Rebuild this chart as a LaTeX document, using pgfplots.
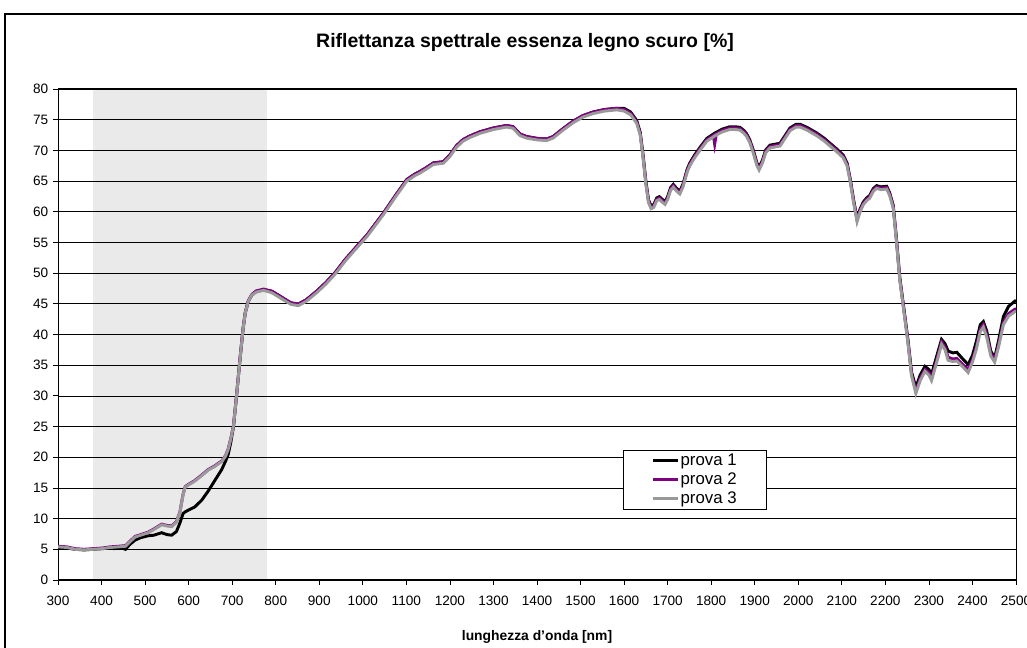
\documentclass[border=0pt]{standalone}
\usepackage{pgfplots}
\pgfplotsset{compat=1.18}
\usepackage{pgfplotstable}
\usepackage{fontspec}
\setmainfont{Liberation Sans}
\definecolor{pgray}{HTML}{999999}
\definecolor{ppurple}{HTML}{800080}
\definecolor{shadegray}{HTML}{EAEAEA}

\pgfplotstableread{
x p1 p2 p3
300 5.3 5.5 5.4
320 5.2 5.4 5.3
340 5.0 5.1 5.0
360 4.9 5.0 4.9
380 5.0 5.1 5.0
400 5.1 5.2 5.1
420 5.2 5.4 5.3
430 5.1 5.45 5.35
440 5.3 5.5 5.4
447 5.2 5.55 5.45
455 5.0 5.6 5.5
465 5.8 6.3 6.2
477 6.5 7.1 7.0
490 6.9 7.4 7.3
507 7.2 7.8 7.7
520 7.3 8.3 8.2
538 7.7 9.1 9.0
550 7.4 8.9 8.8
561 7.3 8.8 8.7
572 7.9 9.5 9.4
580 9.3 11.1 11.0
587 10.8 13.9 13.8
592 11.1 15.2 15.1
600 11.4 15.6 15.5
614 11.9 16.2 16.1
630 13.0 17.1 17.0
645 14.5 18.0 17.9
660 16.2 18.6 18.5
676 18.0 19.4 19.3
685 19.4 20.3 20.2
691 20.5 21.4 21.3
697 22.5 23.1 23.0
703 25.0 25.2 25.1
710 30.0 30.1 30.0
718 36.0 36.1 36.0
725 40.9 41.0 40.9
730 43.5 43.6 43.5
737 45.4 45.5 45.4
745 46.4 46.5 46.4
755 47.0 47.1 46.9
772 47.3 47.4 47.2
791 47.05 47.05 46.8
805 46.45 46.45 46.2
821 45.75 45.75 45.5
835 45.15 45.15 44.9
852 44.95 44.95 44.7
870 45.65 45.65 45.4
894 47.05 47.05 46.8
915 48.45 48.45 48.2
936 50.05 50.05 49.8
960 52.25 52.25 52.0
986 54.35 54.35 54.1
1010 56.25 56.25 56.0
1047 59.75 59.75 59.5
1075 62.65 62.65 62.4
1101 65.25 65.25 65.0
1120 66.15 66.15 65.9
1131 66.55 66.55 66.3
1145 67.15 67.15 66.9
1162 67.95 67.95 67.7
1185 68.15 68.15 67.9
1200 69.25 69.25 69.0
1215 70.75 70.75 70.5
1230 71.75 71.75 71.5
1246 72.35 72.35 72.1
1270 73.05 73.05 72.8
1300 73.65 73.65 73.4
1330 74.05 74.05 73.8
1345 73.85 73.85 73.6
1361 72.65 72.65 72.4
1376 72.25 72.25 72.0
1400 71.95 71.95 71.7
1422 71.85 71.85 71.6
1437 72.25 72.25 72.0
1460 73.55 73.55 73.3
1483 74.75 74.75 74.5
1505 75.65 75.65 75.4
1529 76.25 76.25 76.0
1555 76.65 76.65 76.4
1583 76.85 76.85 76.6
1600 76.85 76.65 76.4
1615 76.25 76.05 75.8
1629 74.85 74.65 74.4
1637 72.95 72.75 72.5
1644 68.95 68.75 68.5
1650 64.95 64.75 64.5
1656 61.95 61.75 61.5
1662 60.95 60.75 60.5
1668 61.15 60.95 60.7
1675 62.25 62.05 61.8
1681 62.45 62.25 62.0
1687 62.05 61.85 61.6
1694 61.65 61.45 61.2
1700 62.45 62.25 62.0
1707 63.95 63.75 63.5
1713 64.45 64.25 64.0
1720 63.85 63.65 63.4
1728 63.35 63.15 62.9
1735 64.45 64.25 64.0
1745 66.95 66.75 66.5
1751 67.95 67.75 67.5
1762 69.25 69.05 68.8
1774 70.45 70.25 70.0
1790 71.95 71.75 71.5
1805 72.65 72.45 72.2
1808 72.8 71.0 72.35
1812 72.95 72.75 72.5
1825 73.45 73.25 73.0
1843 73.85 73.65 73.4
1855 73.85 73.65 73.4
1866 73.75 73.55 73.3
1875 73.25 73.05 72.8
1881 72.75 72.55 72.3
1889 71.65 71.45 71.2
1897 69.95 69.75 69.5
1905 67.95 67.75 67.5
1910 67.25 67.05 66.8
1918 68.45 68.25 68.0
1925 70.05 69.85 69.6
1935 70.85 70.65 70.4
1950 71.05 70.85 70.6
1958 71.15 70.95 70.7
1970 72.45 72.25 72.0
1981 73.65 73.45 73.2
1995 74.25 74.05 73.8
2004 74.25 74.05 73.8
2020 73.75 73.55 73.3
2042 72.85 72.65 72.4
2060 71.95 71.75 71.5
2073 71.15 70.95 70.7
2088 70.25 70.05 69.8
2103 69.25 69.05 68.8
2112 67.95 67.75 67.5
2119 65.45 65.25 65.0
2127 61.95 61.75 61.5
2135 58.85 58.65 58.4
2142 60.45 60.25 60.0
2149 61.55 61.35 61.1
2157 62.25 62.05 61.8
2164 62.65 62.45 62.2
2172 63.75 63.55 63.3
2180 64.25 64.05 63.8
2190 64.05 63.85 63.6
2203 64.15 63.95 63.7
2210 63.05 62.85 62.6
2218 61.05 60.85 60.6
2225 55.95 55.75 55.5
2233 49.35 49.15 48.9
2245 42.85 42.65 42.4
2252 39.0 38.8 38.5
2260 33.9 33.6 33.3
2270 31.4 30.8 30.4
2280 33.4 32.9 32.5
2291 34.8 34.3 34.0
2300 34.3 33.8 33.4
2306 33.5 32.9 32.5
2318 36.5 35.9 35.5
2329 39.2 38.8 38.4
2337 38.5 37.9 37.5
2344 37.3 36.3 35.8
2355 37.0 36.0 35.6
2364 37.1 36.1 35.7
2378 36.0 35.1 34.7
2390 35.1 34.3 33.8
2400 36.6 35.9 35.5
2409 38.9 38.0 37.6
2418 41.6 40.9 40.5
2425 42.1 41.6 41.2
2433 40.5 39.9 39.5
2442 37.3 36.9 36.5
2451 36.2 35.9 35.5
2460 39.0 38.4 38.0
2471 42.9 42.0 41.6
2483 44.6 43.4 43.0
2497 45.4 44.1 43.7
2500 45.6 44.2 43.8
}\datatable

\begin{document}
\begin{tikzpicture}
\clip (0pt,0pt) rectangle (770.25pt,486pt);
\fill[white] (0pt,0pt) rectangle (770.25pt,486pt);
\draw[line width=1.5pt] (3.75pt,-20pt) -- (3.75pt,475.5pt) -- (800pt,475.5pt);
% background band
\begin{axis}[
  at={(43.5pt,51pt)}, anchor=south west,
  scale only axis, width=718.5pt, height=368.25pt,
  xmin=300, xmax=2500, ymin=0, ymax=80,
  hide axis,
]
\addplot[fill=shadegray, draw=none] coordinates {(380,80) (780,80)} \closedcycle;
\end{axis}
% main axis
\begin{axis}[
  at={(43.5pt,51pt)}, anchor=south west,
  scale only axis, width=718.5pt, height=368.25pt,
  xmin=300, xmax=2500, ymin=0, ymax=80,
  xtick={300,400,...,2500}, ytick={0,5,...,80},
  ymajorgrids, major grid style={black, line width=0.5pt},
  axis line style={black, line width=0.75pt},
  tick align=outside, major tick length=3.75pt,
  tick style={black, line width=0.6pt},
  xtick pos=left, ytick pos=left,
  ticklabel style={font=\fontsize{10.2}{12}\selectfont},
  xticklabel style={yshift=-5pt},
  /pgf/number format/assume math mode=true,
  /pgf/number format/1000 sep={},
  scaled ticks=false,
  title={Riflettanza spettrale essenza legno scuro [\%]},
  title style={at={(axis description cs:0.4875,1.0774)}, anchor=center,
    font=\bfseries\fontsize{14.6}{16}\selectfont},
  xlabel={lunghezza d'onda [nm]},
  xlabel style={at={(axis description cs:0.5,-0.116)}, anchor=center,
    font=\bfseries\fontsize{10.4}{12}\selectfont},
  legend style={at={(0.5898,0.2648)}, anchor=north west, draw=black,
    line width=0.5pt, inner xsep=21pt, inner ysep=1.2pt,
    font=\fontsize{12.6}{13}\selectfont,
    nodes={inner sep=1pt, text height=9pt, text depth=2.5pt},
    row sep=0.75pt},
  legend cell align=left,
  legend image code/.code={\draw[#1, line width=2.2pt] (0pt,0pt) -- (18.75pt,0pt);},
]
\addplot[black, line width=2.2pt, no markers] table[x=x, y=p1] {\datatable};
\addlegendentry{prova 1}
\addplot[ppurple, line width=2.2pt, no markers] table[x=x, y=p2] {\datatable};
\addlegendentry{prova 2}
\addplot[pgray, line width=2.2pt, no markers] table[x=x, y=p3] {\datatable};
\addlegendentry{prova 3}
\end{axis}
\end{tikzpicture}
\end{document}
